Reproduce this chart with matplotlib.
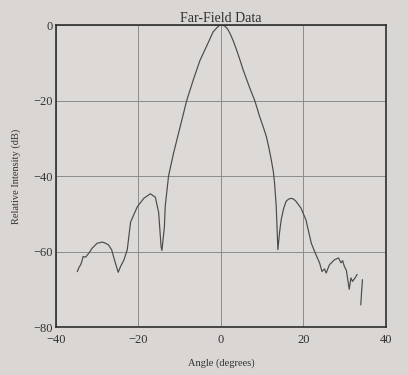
import matplotlib
matplotlib.use("Agg")
import matplotlib.pyplot as plt

# Far-field pattern, main trace
angle = [-34.8, -34.4, -34.0, -33.7, -33.4, -32.8, -32.0, -31.2, -30.0, -28.7, -28.0,
         -27.3, -26.5, -25.7, -24.9, -24.3, -23.5, -22.7, -21.9, -20.3, -18.7,
         -17.1, -15.9, -15.1, -14.5, -14.3, -13.7, -13.5, -12.7, -11.5, -9.9,
         -8.3, -6.7, -5.1, -3.4, -1.9, -1.0, -0.3, 0.4, 1.0, 1.6, 2.2, 3.0, 3.8,
         4.6, 5.4, 6.2, 7.0, 8.2, 9.4, 10.2, 11.0, 11.6, 12.2, 12.7, 13.0, 13.4,
         13.8, 14.2, 14.6, 15.2, 15.8, 16.4, 17.0, 17.6, 18.2, 19.4, 20.6, 21.9,
         22.9, 23.9, 24.5, 25.1, 25.5, 26.3, 27.5, 28.5, 29.1, 29.5, 29.9, 30.4,
         31.1, 31.5, 31.9, 32.5, 33.0]
intensity = [-65.3, -64.2, -63.5, -62.6, -61.3, -61.5, -60.4, -59.1, -57.8, -57.5, -57.8,
             -58.2, -59.5, -62.6, -65.5, -63.9, -62.2, -59.5, -52.2, -48.2, -45.9,
             -44.7, -45.6, -49.6, -58.8, -59.7, -53.4, -48.0, -40.0, -34.0, -27.0,
             -20.0, -14.5, -9.4, -5.4, -1.8, -0.7, 0.0, 0.0, -0.3, -1.0, -2.2, -4.2, -6.6,
             -9.2, -11.9, -14.3, -16.7, -20.0, -24.3, -26.8, -29.5, -32.4, -35.7, -38.8,
             -41.9, -48.0, -59.5, -55.0, -51.6, -48.6, -46.7, -46.1, -45.9, -46.1,
             -46.7, -48.5, -51.6, -57.8, -60.5, -63.0, -65.3, -64.6, -65.7, -63.5,
             -62.2, -61.7, -63.0, -62.4, -63.9, -65.0, -70.0, -67.0, -67.9, -67.0, -66.1]

# Isolated fragment at the far right
angle_tail = [33.9, 34.1, 34.3]
intensity_tail = [-74.1, -70.5, -67.5]

x_ticks = [-40, -20, 0, 20, 40]
y_ticks = [-80, -60, -40, -20, 0]

plt.rcParams['font.family'] = ['Liberation Serif', 'DejaVu Serif']

bg = '#dad6d3'
fig = plt.figure(figsize=(4.08, 3.75), dpi=100, facecolor=bg)
ax = fig.add_axes([0.137, 0.128, 0.809, 0.805], facecolor='#dcd9d6')

ax.plot(angle, intensity, color='#4a4a4a', lw=0.85)
ax.plot(angle_tail, intensity_tail, color='#4a4a4a', lw=0.85)

ax.set_xlim(-40, 40)
ax.set_ylim(-80, 0)
ax.set_xticks(x_ticks)
ax.set_yticks(y_ticks)
ax.grid(True, color='#8c8c8c', lw=0.7)
ax.tick_params(axis='y', length=0, labelsize=9, colors='#333333', pad=2)
ax.tick_params(axis='x', length=0, labelsize=9, colors='#333333', pad=5)
for s in ax.spines.values():
    s.set_linewidth(1.2)
    s.set_color('#2e2e2e')

ax.set_title('Far-Field Data', fontsize=10, color='#2e2e2e', pad=1)
ax.set_xlabel('Angle (degrees)', fontsize=7.5, color='#333333', labelpad=9)
ax.set_ylabel('Relative Intensity (dB)', fontsize=7.5, color='#333333', labelpad=9)

fig.savefig('out.png', dpi=100, facecolor=bg)
